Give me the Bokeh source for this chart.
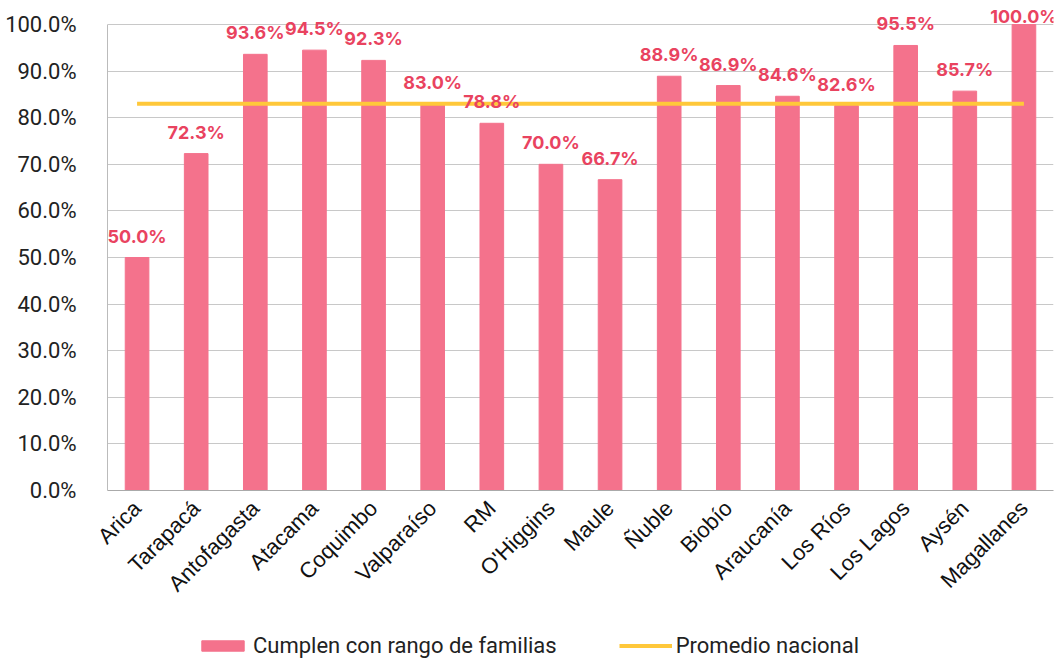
import math
from bokeh.plotting import figure
from bokeh.layouts import column
from bokeh.models import (ColumnDataSource, FactorRange, Range1d, LabelSet, Legend, LegendItem,
                          NumeralTickFormatter, FixedTicker)
from bokeh.core.properties import value
from bokeh.embed import file_html
from bokeh.resources import INLINE

regions = ["Arica", "Tarapacá", "Antofagasta", "Atacama", "Coquimbo", "Valparaíso", "RM",
           "O'Higgins", "Maule", "Ñuble", "Biobío", "Araucanía", "Los Ríos", "Los Lagos",
           "Aysén", "Magallanes"]
cumplen = [0.500, 0.723, 0.936, 0.945, 0.923, 0.830, 0.788, 0.700, 0.667, 0.889, 0.869,
           0.846, 0.826, 0.955, 0.857, 1.000]
promedio_nacional = 0.830
y_ticks = [i / 10 for i in range(11)]
series_names = ["Cumplen con rango de familias", "Promedio nacional"]

BAR = "#F4728C"
LBL = "#E9435F"
LINE = "#FFC83A"

labels = [f"{v*100:.1f}%" for v in cumplen]
offsets = [2 if v > 0.97 else 15 for v in cumplen]
src = ColumnDataSource(dict(x=regions, y=cumplen, lab=labels, off=offsets,
                            avg=[promedio_nacional] * len(regions)))

# frame spans 490px; 100% sits 24px below the top so labels above it are not clipped
y_top = 490 / 466
p = figure(width=1063, height=608, x_range=FactorRange(*regions, range_padding=0),
           y_range=Range1d(0, y_top), output_backend="svg", toolbar_location=None,
           min_border_left=107, min_border_right=10, min_border_top=0, min_border_bottom=118)
p.outline_line_color = None

p.vbar(x="x", top="y", width=0.4, source=src, color=BAR)
p.line(x="x", y="avg", source=src, line_color=LINE, line_width=4)

ls = LabelSet(x="x", y="y", text="lab", source=src, y_offset="off", text_align="center",
              text_baseline="alphabetic", text_color=value(LBL), text_font=value("Inter"),
              text_font_style=value("bold"), text_font_size=value("18px"))
p.add_layout(ls)

p.yaxis.ticker = FixedTicker(ticks=y_ticks)
p.yaxis.bounds = (0, 1)
p.yaxis.formatter = NumeralTickFormatter(format="0.0%")
p.yaxis.major_label_text_font = "Roboto"
p.yaxis.major_label_text_font_size = "22px"
p.yaxis.major_label_text_color = "#222222"
p.yaxis.major_label_standoff = 25
p.yaxis.major_tick_line_color = None
p.yaxis.minor_tick_line_color = None
p.yaxis.axis_line_color = "#BBBBBB"

p.xaxis.major_label_orientation = math.pi / 4
p.xaxis.major_label_text_font = "Liberation Sans"
p.xaxis.major_label_text_font_size = "22px"
p.xaxis.major_label_text_color = "#111111"
p.xaxis.major_label_standoff = 8
p.xaxis.major_tick_line_color = None
p.xaxis.axis_line_color = "#AAAAAA"

p.xgrid.grid_line_color = None
p.ygrid.grid_line_color = "#C8C8C8"

# legend strip
q = figure(width=1063, height=52, x_range=Range1d(0, 1), y_range=Range1d(0, 1),
           output_backend="svg", toolbar_location=None, x_axis_type=None, y_axis_type=None,
           min_border=0)
q.outline_line_color = None
q.xgrid.grid_line_color = None
q.ygrid.grid_line_color = None
rb = q.vbar(x=[-10], top=[-10], width=0.4, color=BAR)
rl = q.line(x=[-10, -9], y=[-10, -10], line_color=LINE, line_width=4)
legend = Legend(items=[LegendItem(label=series_names[0], renderers=[rb]),
                       LegendItem(label=series_names[1], renderers=[rl])],
                orientation="horizontal", location=(89, 2), glyph_width=53,
                glyph_height=13, label_standoff=4, spacing=62, padding=0, margin=0,
                border_line_color=None, background_fill_alpha=0,
                label_text_font="Roboto", label_text_font_size="22px",
                label_text_color="#222222")
q.add_layout(legend)

open("out.html", "w").write(file_html(column(p, q, spacing=0), INLINE))
